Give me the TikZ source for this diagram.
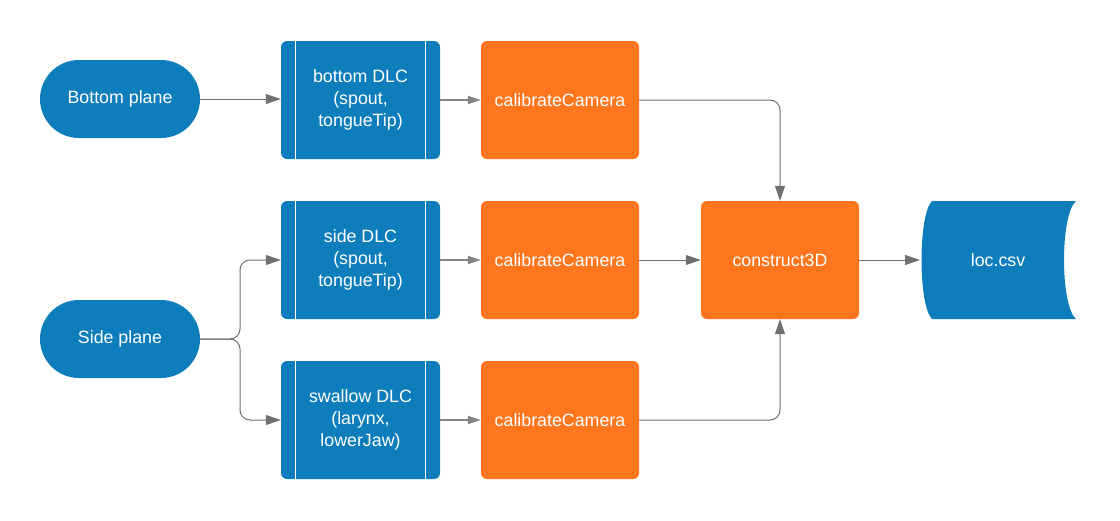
\documentclass[tikz,border=0pt]{standalone}
\usepackage{fontspec}
\setmainfont{Liberation Sans}
\usetikzlibrary{arrows.meta,positioning}
\definecolor{lblue}{HTML}{0E7DBC}
\definecolor{lorange}{HTML}{FF761F}
\definecolor{lgray}{HTML}{707070}
\begin{document}
\begin{tikzpicture}[x=1pt,y=-1pt,
  txt/.style={text=white,font=\fontsize{17.8}{22}\selectfont,align=center,inner sep=0pt},
  term/.style={txt,fill=lblue,minimum width=160pt,minimum height=78pt,rounded corners=39pt},
  proc/.style={txt,fill=lblue,minimum width=159pt,minimum height=118pt,rounded corners=6pt},
  calc/.style={txt,fill=lorange,minimum width=158pt,minimum height=118pt,rounded corners=6pt},
  conn/.style={draw=lgray,line width=1pt,-{Triangle[length=15pt,width=10pt]},rounded corners=10pt},
  thick conn/.style={draw=lgray!85,line width=2.2pt,-{Triangle[length=13pt,width=8pt]}}
]
\useasboundingbox (0,0) rectangle (1120,520);
\fill[white] (0,0) rectangle (1120,520);

\node[term] (bp) at (120,99) {Bottom plane};
\node[term] (sp) at (120,339) {Side plane};

\node[proc] (bd) at (360.5,100) {bottom DLC\\(spout,\\tongueTip)};
\node[proc] (sd) at (360.5,260) {side DLC\\(spout,\\tongueTip)};
\node[proc] (wd) at (360.5,420) {swallow DLC\\(larynx,\\lowerJaw)};
\foreach \n in {bd,sd,wd}{
  \draw[white,line width=1pt] ([xshift=15pt]\n.north west) -- ([xshift=15pt]\n.south west);
  \draw[white,line width=1pt] ([xshift=-15pt]\n.north east) -- ([xshift=-15pt]\n.south east);
}

\node[calc] (c1) at (560,100) {calibrateCamera};
\node[calc] (c2) at (560,260) {calibrateCamera};
\node[calc] (c3) at (560,420) {calibrateCamera};
\node[calc] (c3d) at (780,260) {construct3D};

% stored data shape
\fill[lblue] (932,201) .. controls (918,215) and (918,305) .. (932,319)
  -- (1076,319) .. controls (1060,305) and (1060,215) .. (1076,201) -- cycle;
\node[txt,minimum width=156pt,minimum height=118pt] (loc) at (998,260) {loc.csv};
\coordinate (locin) at (920,260);

\draw[conn] (bp.east) -- (bd.west |- bp.east);
\draw[conn] (sp.east) -| (240,300) |- (sd.west);
\draw[conn] (sp.east) -| (240,380) |- (wd.west);

\draw[thick conn] (bd.east) -- (c1.west);
\draw[thick conn] (sd.east) -- (c2.west);
\draw[thick conn] (wd.east) -- (c3.west);

\draw[conn] (c1.east) -| (c3d.north);
\draw[conn] (c2.east) -- (c3d.west);
\draw[conn] (c3.east) -| (c3d.south);
\draw[conn] (c3d.east) -- (locin);
\end{tikzpicture}
\end{document}
